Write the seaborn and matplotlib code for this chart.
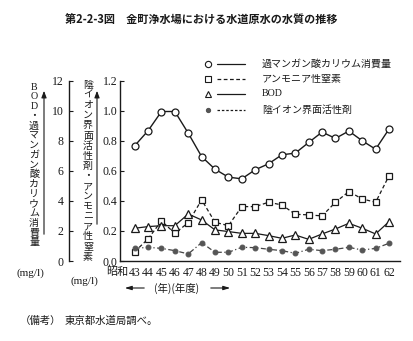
import matplotlib
matplotlib.use("Agg")
import matplotlib.pyplot as plt
import seaborn as sns
import numpy as np
from matplotlib.lines import Line2D

sns.set_theme(style="white")
plt.rcParams['font.family'] = ['Liberation Serif', 'Noto Sans CJK JP']

# ---- data ----
years = list(range(43, 63))
permanganate = [7.67, 8.67, 9.95, 9.95, 8.51, 6.95, 6.11, 5.58, 5.47, 6.07,
                6.47, 7.07, 7.18, 7.89, 8.58, 8.16, 8.65, 8.00, 7.44, 8.78]
bod = [2.18, 2.29, 2.35, 2.35, 3.13, 2.73, 2.07, 1.96, 1.84, 1.84,
       1.69, 1.51, 1.73, 1.44, 1.80, 2.13, 2.51, 2.18, 1.80, 2.62]
ammonia = [0.062, 0.147, 0.267, 0.184, 0.255, 0.407, 0.258, 0.235, 0.362, 0.362,
           0.391, 0.373, 0.311, 0.307, 0.300, 0.391, 0.462, 0.413, 0.391, 0.567]
surfactant = [0.084, 0.091, 0.084, 0.069, 0.047, 0.122, 0.058, 0.058, 0.091, 0.089,
              0.078, 0.069, 0.051, 0.078, 0.069, 0.078, 0.091, 0.073, 0.084, 0.118]
year_labels = [str(y) for y in years]
left_ticks = [0, 2, 4, 6, 8, 10, 12]
right_ticks = [0.0, 0.2, 0.4, 0.6, 0.8, 1.0, 1.2]
series_names = ["過マンガン酸カリウム消費量", "アンモニア性窒素", "BOD", "陰イオン界面活性剤"]

W, H = 413, 341
fig = plt.figure(figsize=(W / 100, H / 100), dpi=100)
fig.patch.set_facecolor("white")

def fx(px):
    return px / W

def fy(py):
    return 1 - py / H

ax_l, ax_r, ax_t, ax_b = 120, 400, 80.7, 261
ax = fig.add_axes([fx(ax_l), fy(ax_b), fx(ax_r - ax_l), (ax_b - ax_t) / H])
ax.set_facecolor("white")
ax2 = ax.twinx()

ink = "#1a1a1a"
# ammonia & surfactant on 0-1.2 axis
sns.lineplot(x=years, y=ammonia, ax=ax, color=ink, linestyle=(0, (3, 2)), lw=0.9,
             marker="s", markersize=5, markerfacecolor="white", markeredgecolor=ink,
             markeredgewidth=0.9)
sns.lineplot(x=years, y=surfactant, ax=ax, color="#444444", linestyle=(0, (4, 2, 1, 2)), lw=0.9,
             marker="o", markersize=3.5, markerfacecolor="#555555", markeredgecolor="#555555")
# BOD & permanganate on 0-12 axis
sns.lineplot(x=years, y=permanganate, ax=ax2, color=ink, lw=1.0,
             marker="o", markersize=5, markerfacecolor="white", markeredgecolor=ink,
             markeredgewidth=0.9)
sns.lineplot(x=years, y=bod, ax=ax2, color=ink, lw=0.9,
             marker="^", markersize=6, markerfacecolor="white", markeredgecolor=ink,
             markeredgewidth=0.9)

x0 = 43 - (134.7 - ax_l) / 13.4
x1 = 62 + (ax_r - 389) / 13.4
for a in (ax, ax2):
    a.set_xlim(x0, x1)
    a.grid(False)
ax.set_ylim(0, 1.2)
ax2.set_ylim(0, 12)

ax.set_xticks(years)
ax.set_xticklabels(year_labels, fontsize=8.5)
ax.set_yticks(right_ticks)
ax.set_yticklabels([f"{v:.1f}" for v in right_ticks], fontsize=8.5)
ax.tick_params(axis="both", direction="in", length=3, width=0.8, color=ink,
               labelcolor=ink, pad=2)
ax.tick_params(axis="x", pad=4)
for s in ("top", "right"):
    ax.spines[s].set_visible(False)
for s in ("left", "bottom"):
    ax.spines[s].set_color(ink)
    ax.spines[s].set_linewidth(1.0)

ax2.yaxis.set_ticks_position("left")
ax2.yaxis.set_label_position("left")
ax2.spines["left"].set_position(("axes", -(ax_l - 69) / (ax_r - ax_l)))
ax2.spines["left"].set_visible(True)
ax2.spines["left"].set_color(ink)
ax2.spines["left"].set_linewidth(1.0)
for s in ("top", "right", "bottom"):
    ax2.spines[s].set_visible(False)
ax2.set_yticks(left_ticks)
ax2.set_yticklabels([str(v) for v in left_ticks], fontsize=8.5)
ax2.tick_params(axis="y", direction="in", length=3, width=0.8, color=ink,
                labelcolor=ink, pad=4)
ax2.patch.set_visible(False)

jp = ['Noto Sans CJK JP', 'DejaVu Sans']

# title
fig.text(fx(201), fy(20), "第2-2-3図　金町浄水場における水道原水の水質の推移",
         fontsize=8, fontweight="bold", ha="center", va="center", family=jp, color=ink)

# vertical axis labels
def vtext(xc, ytop, s, step):
    for i, ch in enumerate(s):
        fam = ['Liberation Serif'] if ch.isascii() else jp
        fig.text(fx(xc), fy(ytop + i * step), ch, fontsize=7.2, ha="center",
                 va="center", family=fam, color=ink)

vtext(34, 87, "BOD・過マンガン酸カリウム消費量", 9.7)
vtext(88, 85, "陰イオン界面活性剤・アンモニア性窒素", 10.1)
fig.text(fx(30), fy(273), "(mg/l)", fontsize=8, ha="center", va="center",
         family=['Liberation Serif'], color=ink)
fig.text(fx(84), fy(281), "(mg/l)", fontsize=8, ha="center", va="center",
         family=['Liberation Serif'], color=ink)
# arrows beside vertical labels
for xa, yb in ((44, 237), (97, 227)):
    fig.add_artist(matplotlib.patches.FancyArrowPatch(
        (fx(xa), fy(yb)), (fx(xa), fy(88)), transform=fig.transFigure,
        arrowstyle="-|>,head_length=4,head_width=1.5", lw=0.8, color=ink))

# 昭和 prefix
fig.text(fx(128.5), fy(272), "昭和", fontsize=8, ha="right", va="center",
         family=jp, color=ink)

# year arrow
fig.text(fx(177), fy(288), "(年)(年度)", fontsize=7.5, ha="center", va="center",
         family=jp, color=ink)
fig.add_artist(matplotlib.patches.FancyArrowPatch(
    (fx(147), fy(288)), (fx(122), fy(288)), transform=fig.transFigure,
    arrowstyle="-|>,head_length=4,head_width=1.2", lw=0.8, color=ink))
fig.add_artist(matplotlib.patches.FancyArrowPatch(
    (fx(208), fy(288)), (fx(233), fy(288)), transform=fig.transFigure,
    arrowstyle="-|>,head_length=4,head_width=1.2", lw=0.8, color=ink))

# legend (manual)
leg_rows = [64, 79, 94, 110]
leg_styles = [
    dict(marker="o", ms=4.5, mfc="white", mec=ink, ls="-"),
    dict(marker="s", ms=4.5, mfc="white", mec=ink, ls=(0, (3, 2))),
    dict(marker="^", ms=5, mfc="white", mec=ink, ls="-"),
    dict(marker="o", ms=3, mfc="#555555", mec="#555555", ls=(0, (2, 1.5))),
]
for yrow, st, name in zip(leg_rows, leg_styles, series_names):
    fig.add_artist(Line2D([fx(208)], [fy(yrow)], transform=fig.transFigure,
                          marker=st["marker"], markersize=st["ms"],
                          markerfacecolor=st["mfc"], markeredgecolor=st["mec"],
                          markeredgewidth=0.8, ls="none"))
    fig.add_artist(Line2D([fx(217), fx(245)], [fy(yrow), fy(yrow)],
                          transform=fig.transFigure, color=ink, lw=0.9, ls=st["ls"]))
    fam = ['Liberation Serif'] if name.isascii() else jp
    fig.text(fx(262), fy(yrow), name, fontsize=7.2, ha="left", va="center",
             family=fam, color=ink)

# note
fig.text(fx(20), fy(321), "（備考）", fontsize=7.5, ha="left", va="center",
         family=jp, color=ink)
fig.text(fx(65), fy(321), "東京都水道局調べ。", fontsize=7.5, ha="left", va="center",
         family=jp, color=ink)

fig.savefig("out.png", dpi=100, facecolor="white")
